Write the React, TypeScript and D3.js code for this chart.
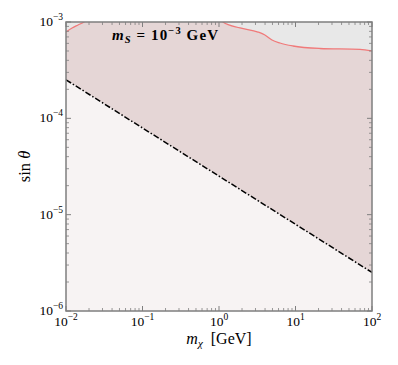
import React from "react";
import * as d3 from "d3";

// red exclusion boundary (log10 m, log10 sinθ); values above 1e-3 are clipped
const redX = [-2, -1.92, -1.843, -1.765, -1.6, -1.0, 0.0, 0.052, 0.275, 0.51, 0.6, 0.693, 0.797, 0.967, 1.32, 1.843, 2.0];
const redY = [-3.104, -3.062, -3.031, -3.0, -2.9, -2.7, -2.9, -3.0, -3.062, -3.104, -3.135, -3.187, -3.218, -3.249, -3.275, -3.285, -3.30];
// dash-dot line
const dashX = [-2, 2];
const dashY = [-3.6, -5.6];
const xTicks = [-2, -1, 0, 1, 2];
const yTicks = [-6, -5, -4, -3];

const W = 398, H = 365;
const L = 66, R = 372, T = 22, B = 311;

export default function App() {
  const x = d3.scaleLinear().domain([-2, 2]).range([L, R]);
  const y = d3.scaleLinear().domain([-6, -3]).range([B, T]);
  const red = redX.map((v, i) => [v, redY[i]] as [number, number]);
  const dash = dashX.map((v, i) => [v, dashY[i]] as [number, number]);

  const line = d3.line<[number, number]>().x((d) => x(d[0])).y((d) => y(d[1])).curve(d3.curveMonotoneX);
  const areaTop = d3.area<[number, number]>().x((d) => x(d[0])).y0(y(-2.5)).y1((d) => y(d[1])).curve(d3.curveMonotoneX);
  const areaDash = d3.area<[number, number]>().x((d) => x(d[0])).y0(y(-6)).y1((d) => y(d[1]));

  const minorX: number[] = [];
  for (let e = -2; e < 2; e++) for (let k = 2; k <= 9; k++) minorX.push(e + Math.log10(k));
  const minorY: number[] = [];
  for (let e = -6; e < -3; e++) for (let k = 2; k <= 9; k++) minorY.push(e + Math.log10(k));

  const tc = "#7f7f7f";
  const font = "'Liberation Serif', 'DejaVu Serif', serif";

  return (
    <svg width={W} height={H} style={{ position: "absolute", left: 0, top: 0 }} fontFamily={font}>
      <defs>
        <clipPath id="plot">
          <rect x={L} y={T} width={R - L} height={B - T} />
        </clipPath>
      </defs>
      <rect x={0} y={0} width={W} height={H} fill="#fff" />
      <g clipPath="url(#plot)">
        <rect x={L} y={T} width={R - L} height={B - T} fill="#e5d6d6" />
        <path d={areaDash(dash) || ""} fill="#f7f3f3" />
        <path d={areaTop(red) || ""} fill="#e8e8e8" />
        <path d={line(red) || ""} fill="none" stroke="#f07a7a" strokeWidth={1.3} />
        <path d={d3.line<[number, number]>().x((d) => x(d[0])).y((d) => y(d[1]))(dash) || ""} fill="none" stroke="#000" strokeWidth={1.5} strokeDasharray="6 2 1.5 2" />
      </g>
      {xTicks.map((t) => (
        <g key={"xt" + t}>
          <line x1={x(t)} x2={x(t)} y1={B} y2={B - 5} stroke={tc} />
          <line x1={x(t)} x2={x(t)} y1={T} y2={T + 5} stroke={tc} />
        </g>
      ))}
      {minorX.map((t, i) => (
        <g key={"xm" + i}>
          <line x1={x(t)} x2={x(t)} y1={B} y2={B - 3} stroke={tc} strokeWidth={0.8} />
          <line x1={x(t)} x2={x(t)} y1={T} y2={T + 3} stroke={tc} strokeWidth={0.8} />
        </g>
      ))}
      {yTicks.map((t) => (
        <g key={"yt" + t}>
          <line x1={L} x2={L + 5} y1={y(t)} y2={y(t)} stroke={tc} />
          <line x1={R} x2={R - 5} y1={y(t)} y2={y(t)} stroke={tc} />
        </g>
      ))}
      {minorY.map((t, i) => (
        <g key={"ym" + i}>
          <line x1={L} x2={L + 3} y1={y(t)} y2={y(t)} stroke={tc} strokeWidth={0.8} />
          <line x1={R} x2={R - 3} y1={y(t)} y2={y(t)} stroke={tc} strokeWidth={0.8} />
        </g>
      ))}
      <rect x={L} y={T} width={R - L} height={B - T} fill="none" stroke={tc} strokeWidth={1.5} />
      {xTicks.map((t) => (
        <text key={"xl" + t} x={x(t)} y={B + 15} textAnchor="middle" fontSize={13.5} fill="#000">
          10<tspan dy={-6} fontSize={9.5}>{t < 0 ? "\u2212" + Math.abs(t) : String(t)}</tspan>
        </text>
      ))}
      {yTicks.map((t) => (
        <text key={"yl" + t} x={L - 3} y={y(t) + 4} textAnchor="end" fontSize={13.5} fill="#000">
          10<tspan dy={-6} fontSize={9.5}>{"\u2212" + Math.abs(t)}</tspan>
        </text>
      ))}
      <text x={219} y={344} textAnchor="middle" fontSize={16} fill="#000">
        <tspan fontStyle="italic">m</tspan>
        <tspan fontStyle="italic" fontSize={11} dy={3}>χ</tspan>
        <tspan dy={-3}>{"\u00a0\u00a0[GeV]"}</tspan>
      </text>
      <text transform={`translate(30,${(T + B) / 2}) rotate(-90)`} textAnchor="middle" fontSize={16.5} fill="#000">
        sin <tspan fontStyle="italic">θ</tspan>
      </text>
      <text x={112} y={40} fontSize={15} fontWeight="bold" fill="#000" textLength={106}>
        <tspan fontStyle="italic">m</tspan>
        <tspan fontStyle="italic" fontSize={10.5} dy={3}>S</tspan>
        <tspan dy={-3}>{" = 10"}</tspan>
        <tspan dy={-6} fontSize={10.5}>{"\u22123"}</tspan>
        <tspan dy={6}>{" GeV"}</tspan>
      </text>
    </svg>
  );
}
